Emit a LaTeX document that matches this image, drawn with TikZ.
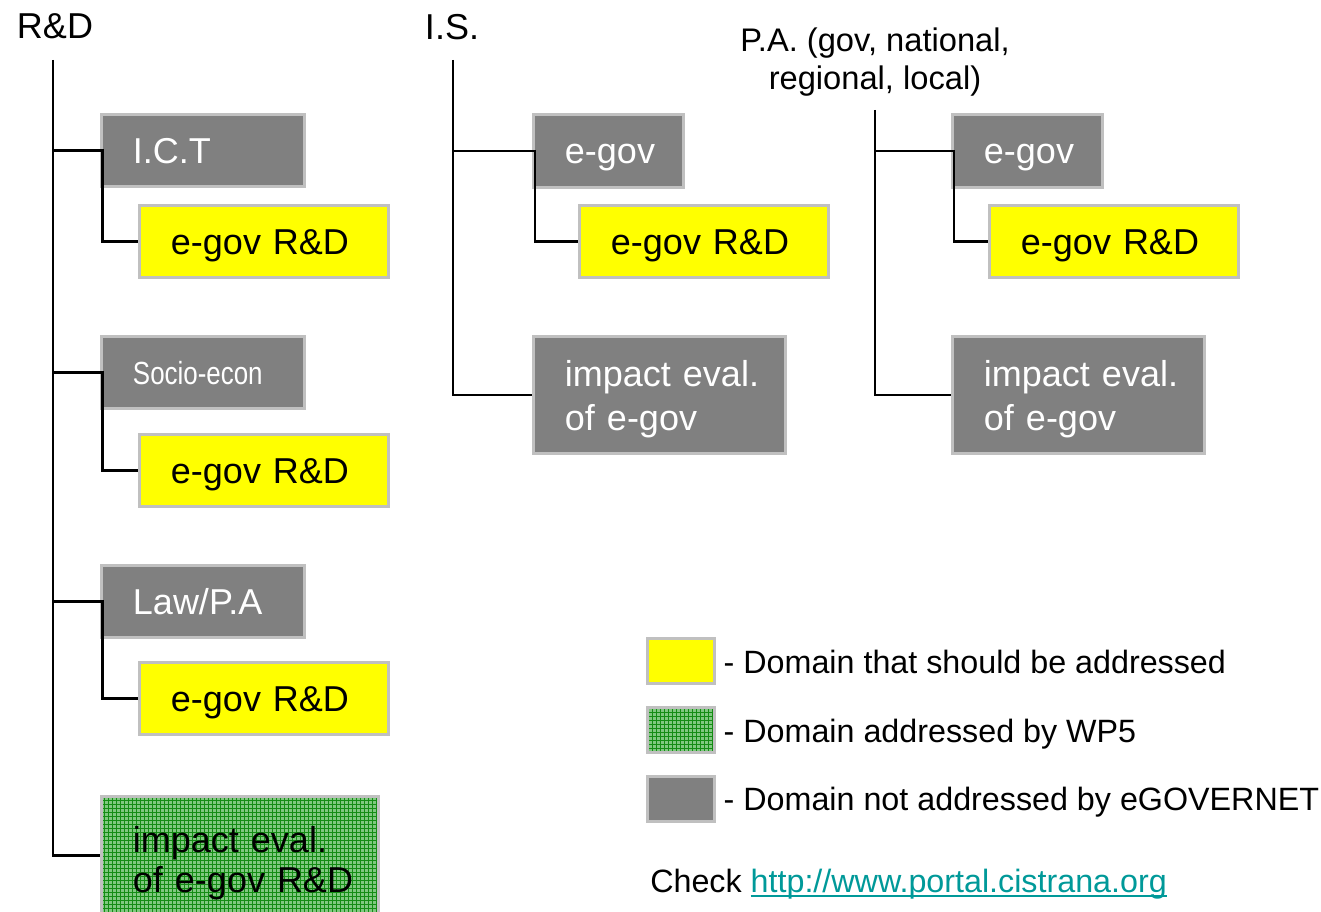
\documentclass[tikz,border=0pt]{standalone}
\usepackage{fontspec}
\setmainfont{Liberation Sans}
\newfontfamily\narrowsf[FakeStretch=0.81]{Liberation Sans}
\usepackage{tikz}
\usetikzlibrary{positioning, patterns}
\definecolor{cellgrey}{HTML}{808080}
\definecolor{cellrim}{HTML}{C0C0C0}
\definecolor{cellyellow}{HTML}{FFFF00}
\definecolor{wpgreen}{RGB}{128,200,128}
\definecolor{wpgrid}{RGB}{20,140,20}
\definecolor{linkteal}{RGB}{0,153,153}
\newcommand{\linkrule}[1]{\setbox0\hbox{#1}\rlap{\rule[-3.3pt]{\wd0}{1.5pt}}\box0}
\tikzset{
x=0.75pt, y=-0.75pt, % one unit is one pixel of the slide
cell/.style={rectangle, draw=cellrim, line width=2.25pt, anchor=north west, inner xsep=23.6pt, inner ysep=0pt, align=left, minimum height=54pt, font=\fontsize{27}{32.5}\selectfont}, % sets the look of every box
oneline/.style={text height=19.4pt, text depth=0pt}, % boxes with a single line of text
twoline/.style={text height=19.7pt, text depth=32.1pt}, % boxes with two lines of text
greycell/.style={cell, fill=cellgrey, text=white}, % not addressed
yellowcell/.style={cell, oneline, fill=cellyellow, text=black, text width=139.55pt}, % should be addressed
greencell/.style={cell, text=black, preaction={fill=wpgreen}, pattern=grid, pattern color=wpgrid}, % addressed by WP5
swatch/.style={rectangle, draw=cellrim, line width=2.25pt, minimum width=50.25pt, minimum height=33.75pt, inner sep=0pt}, % legend squares
legtext/.style={inner sep=0pt, anchor=base west, font=\fontsize{24.2}{29}\selectfont}, % legend texts
root/.style={inner sep=0pt, font=\fontsize{27}{32}\selectfont}, % top labels
tier/.style={draw=black, line width=2pt}, % tree lines
}

\begin{document}
\begin{tikzpicture}
\useasboundingbox (0,0) rectangle (1321,912);

% R&D tree
\node[root] (rd) at (55,26) {R\&D};
\node[greycell, oneline, text width=105.05pt] (ict) at (100,113) {I.C.T};
\node[yellowcell] (ictrd) at (138,204) {\mbox{e-gov R\&D}};
\node[greycell, oneline, text width=105.05pt, text height=17.3pt, font=\narrowsf\fontsize{24}{28}\selectfont] (soc) at (100,335) {Socio-econ};
\node[yellowcell] (socrd) at (138,433) {\mbox{e-gov R\&D}};
\node[greycell, oneline, text width=105.05pt] (law) at (100,564) {Law/P.A};
\node[yellowcell] (lawrd) at (138,661) {\mbox{e-gov R\&D}};
\node[greencell, text width=160.55pt, minimum height=88.5pt, text height=19.7pt, text depth=23.5pt, font=\fontsize{27}{30}\selectfont] (wp) at (100,795) {\mbox{impact eval.}\\\mbox{of e-gov R\&D}};

% I.S. tree
\node[root] (is) at (452,27) {I.S.};
\node[greycell, oneline, text width=65.3pt, minimum height=54.75pt] (isgov) at (532,113) {\mbox{e-gov}};
\node[yellowcell] (isrd) at (578,204) {\mbox{e-gov R\&D}};
\node[greycell, twoline, text width=141.8pt, minimum height=87.75pt] (isimp) at (532,335) {\mbox{impact eval.}\\\mbox{of e-gov}};

% P.A. tree
\node[root, align=center, font=\fontsize{24.5}{28.5}\selectfont] (pa) at (875,62) {P.A. (gov, national,\\regional, local)};
\node[greycell, oneline, text width=65.3pt, minimum height=54.75pt] (pagov) at (951,113) {\mbox{e-gov}};
\node[yellowcell] (pard) at (988,204) {\mbox{e-gov R\&D}};
\node[greycell, twoline, text width=141.8pt, minimum height=87.75pt] (paimp) at (951,335) {\mbox{impact eval.}\\\mbox{of e-gov}};

\coordinate (rdtop) at (53,60);
\coordinate (istop) at (453,60);
\coordinate (patop) at (875,110);

\draw[tier] (rdtop) |- (wp.west);
\foreach \up/\low in {ict/ictrd, soc/socrd, law/lawrd}
  \draw[tier] (rdtop |- \up.west) -- ([xshift=2pt]\up.west) |- (\low.west);
\draw[tier] (istop) |- (isimp.west);
\draw[tier] (istop |- isgov.west) -- ([xshift=2.25pt]isgov.west) |- (isrd.west);
\draw[tier] (patop) |- (paimp.west);
\draw[tier] (patop |- pagov.west) -- ([xshift=2.25pt]pagov.west) |- (pard.west);

% legend
\node[swatch, fill=cellyellow] (swy) at (681,661) {};
\node[swatch, preaction={fill=wpgreen}, pattern=grid, pattern color=wpgrid] (swg) at (681,730) {};
\node[swatch, fill=cellgrey] (swn) at (681,798.5) {};
\node[legtext, right=5.6pt of swy, anchor=base west, yshift=-9pt] (ly) {- Domain that should be addressed};
\node[legtext, right=5.6pt of swg, anchor=base west, yshift=-9pt] (lg) {- Domain addressed by WP5};
\node[legtext, right=5.6pt of swn, anchor=base west, yshift=-9pt] (ln) {- Domain not addressed by eGOVERNET};
\node[legtext] (check) at (650,892.7) {Check \textcolor{linkteal}{\linkrule{http://www.portal.cistrana.org}}};
\end{tikzpicture}
\end{document}
